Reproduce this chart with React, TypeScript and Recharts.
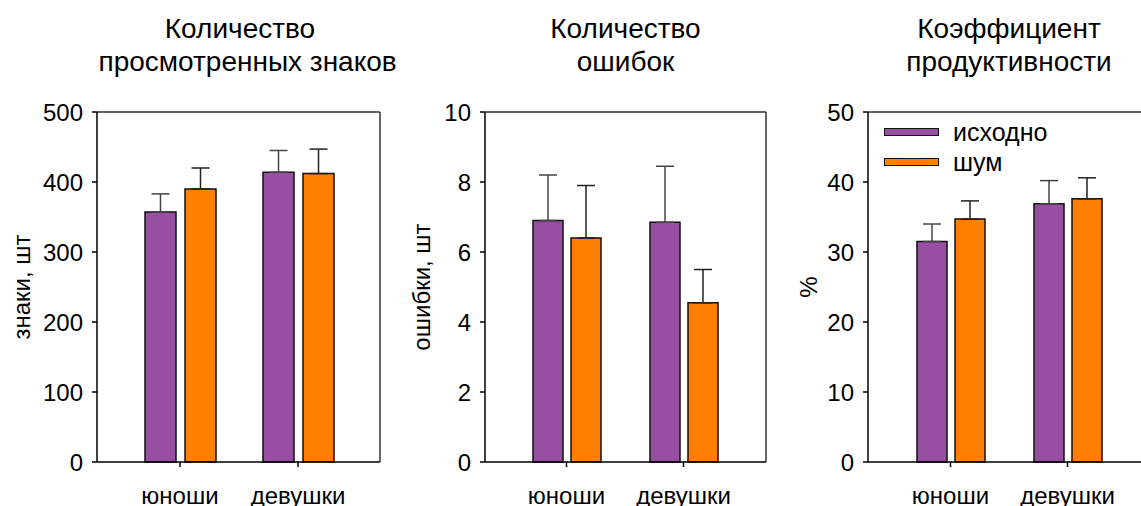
import React from 'react';
import {
  BarChart,
  Bar,
  XAxis,
  YAxis,
  CartesianGrid,
  ErrorBar,
  Legend,
  Label,
} from 'recharts';

const FONT = '"Liberation Sans", Arial, sans-serif';
const PURPLE = '#984EA3';
const ORANGE = '#FF7F00';

const categories = ['юноши', 'девушки'];
const seriesNames = ['исходно', 'шум'];

// количество просмотренных знаков
const signsBase = [357, 414];
const signsNoise = [390, 412];
const signsBaseErr = [26, 31];
const signsNoiseErr = [30, 35];
const signsTicks = [0, 100, 200, 300, 400, 500];

// количество ошибок
const errorsBase = [6.9, 6.85];
const errorsNoise = [6.4, 4.55];
const errorsBaseErr = [1.3, 1.6];
const errorsNoiseErr = [1.5, 0.95];
const errorsTicks = [0, 2, 4, 6, 8, 10];

// коэффициент продуктивности
const coefBase = [31.5, 36.9];
const coefNoise = [34.7, 37.6];
const coefBaseErr = [2.5, 3.3];
const coefNoiseErr = [2.6, 3.0];
const coefTicks = [0, 10, 20, 30, 40, 50];

const buildData = (base: number[], noise: number[], baseErr: number[], noiseErr: number[]) =>
  categories.map((name, i) => ({
    name,
    base: base[i],
    noise: noise[i],
    baseErr: [0, baseErr[i]],
    noiseErr: [0, noiseErr[i]],
  }));

const frameTop = ({ offset }: any) => [offset.top];
const frameRight = ({ offset }: any) => [offset.left + offset.width];

interface PanelProps {
  left: number;
  width: number;
  axisWidth: number;
  marginRight: number;
  title: string[];
  titleShift?: number;
  yLabel: string;
  labelX: number;
  ticks: number[];
  data: ReturnType<typeof buildData>;
  barSize: number;
  barGap: number;
  padding: { left: number; right: number };
  legend?: boolean;
}

const LegendBox = ({ payload }: any) => (
  <div style={{ fontFamily: FONT, fontSize: 25, color: '#000' }}>
    {(payload || []).map((p: any) => (
      <div key={p.value} style={{ display: 'flex', alignItems: 'center', height: 30 }}>
        <span
          style={{
            display: 'inline-block',
            width: 53,
            height: 6,
            background: p.color,
            border: '1.5px solid #111',
            marginRight: 14,
          }}
        />
        <span style={{ lineHeight: '30px' }}>{p.value}</span>
      </div>
    ))}
  </div>
);

const Panel = (p: PanelProps) => {
  const plotLeft = p.axisWidth;
  const plotWidth = p.width - p.axisWidth - p.marginRight;
  return (
    <div style={{ position: 'absolute', left: p.left, top: 0, width: p.width, height: 506 }}>
      <div
        style={{
          position: 'absolute',
          left: plotLeft + (p.titleShift || 0),
          top: 11.5,
          width: plotWidth,
          textAlign: 'center',
          fontFamily: FONT,
          fontSize: 28,
          lineHeight: '33px',
          color: '#000',
          whiteSpace: 'nowrap',
        }}
      >
        {p.title.map((t) => (
          <div key={t}>{t}</div>
        ))}
      </div>
      <BarChart
        width={p.width}
        height={506}
        data={p.data}
        margin={{ top: 112, right: p.marginRight, bottom: 0, left: 0 }}
        barSize={p.barSize}
        barGap={p.barGap}
        style={{ fontFamily: FONT }}
      >
        <CartesianGrid
          stroke="#333"
          strokeWidth={1.5}
          horizontalCoordinatesGenerator={frameTop}
          verticalCoordinatesGenerator={frameRight}
        />
        <XAxis
          dataKey="name"
          interval={0}
          height={44}
          padding={p.padding}
          tickSize={5}
          tickMargin={20}
          axisLine={{ stroke: '#000', strokeWidth: 1.5 }}
          tickLine={{ stroke: '#000', strokeWidth: 1.5 }}
          tick={{ fontSize: 24, fill: '#000' }}
        />
        <YAxis
          width={p.axisWidth}
          domain={[p.ticks[0], p.ticks[p.ticks.length - 1]]}
          ticks={p.ticks}
          interval={0}
          tickSize={5}
          tickMargin={9}
          axisLine={{ stroke: '#000', strokeWidth: 1.5 }}
          tickLine={{ stroke: '#000', strokeWidth: 1.5 }}
          tick={{ fontSize: 24, fill: '#000' }}
        >
          <Label
            content={({ viewBox }: any) => {
              const vb = viewBox || { x: 0, y: 112, height: 350 };
              const x = vb.x + p.labelX;
              const y = vb.y + vb.height / 2;
              return (
                <text
                  x={x}
                  y={y}
                  transform={`rotate(-90 ${x} ${y})`}
                  textAnchor="middle"
                  dominantBaseline="central"
                  fontSize={24}
                  fill="#000"
                  fontFamily={FONT}
                >
                  {p.yLabel}
                </text>
              );
            }}
          />
        </YAxis>
        {p.legend && (
          <Legend
            layout="vertical"
            verticalAlign="middle"
            align="center"
            content={<LegendBox />}
            wrapperStyle={{ top: 117, left: 104, width: 200 }}
          />
        )}
        <Bar
          dataKey="base"
          name={seriesNames[0]}
          fill={PURPLE}
          stroke="#111"
          strokeWidth={1.5}
          isAnimationActive={false}
        >
          <ErrorBar dataKey="baseErr" direction="y" width={9} stroke="#444" strokeWidth={1.5} />
        </Bar>
        <Bar
          dataKey="noise"
          name={seriesNames[1]}
          fill={ORANGE}
          stroke="#111"
          strokeWidth={1.5}
          isAnimationActive={false}
        >
          <ErrorBar dataKey="noiseErr" direction="y" width={9} stroke="#222" strokeWidth={1.5} />
        </Bar>
      </BarChart>
    </div>
  );
};

export default function App() {
  return (
    <div
      style={{
        position: 'absolute',
        left: 0,
        top: 0,
        width: 1141,
        height: 506,
        overflow: 'hidden',
        background: '#fff',
      }}
    >
      <Panel
        left={0}
        width={400}
        axisWidth={97}
        marginRight={20}
        title={['Количество', 'просмотренных знаков']}
        titleShift={1.5}
        yLabel="знаки, шт"
        labelX={21}
        ticks={signsTicks}
        data={buildData(signsBase, signsNoise, signsBaseErr, signsNoiseErr)}
        barSize={31}
        barGap={9}
        padding={{ left: 24, right: 23 }}
      />
      <Panel
        left={400}
        width={380}
        axisWidth={85}
        marginRight={14}
        title={['Количество', 'ошибок']}
        yLabel="ошибки, шт"
        labelX={21.5}
        ticks={errorsTicks}
        data={buildData(errorsBase, errorsNoise, errorsBaseErr, errorsNoiseErr)}
        barSize={30}
        barGap={8}
        padding={{ left: 23, right: 24 }}
      />
      <Panel
        left={780}
        width={380}
        axisWidth={88}
        marginRight={10}
        title={['Коэффициент', 'продуктивности']}
        yLabel="%"
        labelX={28}
        ticks={coefTicks}
        data={buildData(coefBase, coefNoise, coefBaseErr, coefNoiseErr)}
        barSize={30}
        barGap={8}
        padding={{ left: 24, right: 24 }}
        legend
      />
    </div>
  );
}
